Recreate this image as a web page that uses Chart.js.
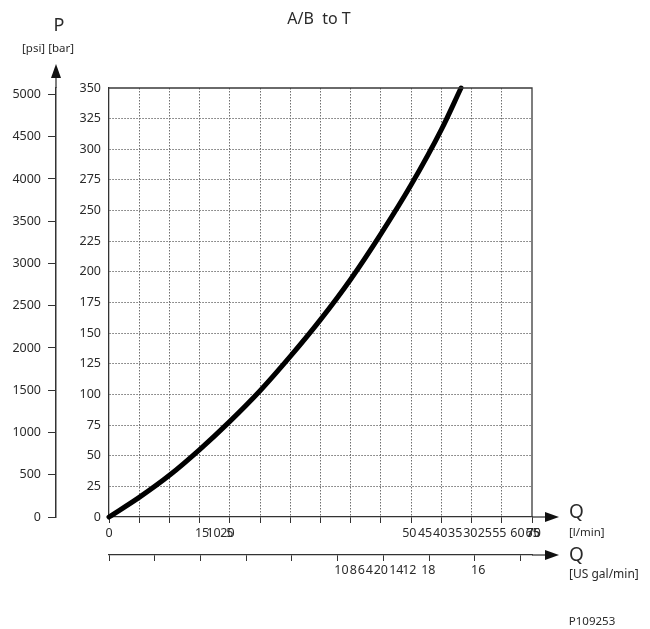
<!DOCTYPE html>
<html><head><meta charset="utf-8">
<script src="https://cdn.jsdelivr.net/npm/chart.js@4/dist/chart.umd.min.js"></script>
<style>html,body{margin:0;padding:0;background:#fff}#wrap{position:relative;width:650px;height:629px}</style>
</head><body><div id="wrap"><canvas id="c" width="650" height="629"></canvas></div>
<script>
// ---- data ----
const flowLpm     = [0, 5, 10, 15, 20, 25, 30, 35, 40, 45, 50, 55, 58.25];
const pressureBar = [0, 16, 34, 55, 78, 103, 131, 161, 194, 231, 271, 316, 350];

const barTicks  = [0,25,50,75,100,125,150,175,200,225,250,275,300,325,350];
const psiTicks  = [0,500,1000,1500,2000,2500,3000,3500,4000,4500,5000];
const lpmGrid   = [0,5,10,15,20,25,30,35,40,45,50,55,60,65,70];
const galGrid   = [0,2,4,6,8,10,12,14,16,18];

// tick labels as printed (overlapping) in the reference, with their positions in axis units
const lpmLabelText = ['0','15','10','20','5','50','45','40','35','30','25','55','60','65','75','70'];
const lpmLabelPos  = [0, 15.4, 17.3, 19.6, 20.0, 49.7, 52.3, 54.8, 57.3, 59.8, 62.2, 64.6, 67.6, 70.1, 70.2, 70.3];
const galLabelText = ['10','8','6','4','2','0','14','12','18','16'];
const galLabelPos  = [10.16, 10.68, 11.03, 11.38, 11.73, 12.04, 12.56, 13.13, 13.96, 16.14];

const PSI_PER_BAR = 14.5038;
const L_PER_GAL = 3.78541;
const FONT = 'Noto Sans';
const TXT = '#2a2a2a';

const gridTicks = (vals, labels, pos) =>
  vals.map(v => ({value: v})).concat(pos.map((v, i) => ({value: v, txt: labels[i]})));

const deco = {
  id: 'deco',
  afterDraw(chart) {
    const ctx = chart.ctx, a = chart.chartArea;
    const sx = chart.scales.x, sg = chart.scales.xg, sp = chart.scales.yp;
    ctx.save();
    ctx.strokeStyle = '#3a3a3a'; ctx.fillStyle = '#111'; ctx.lineWidth = 1.3;
    // frame top & right
    ctx.beginPath();
    ctx.moveTo(a.left, a.top); ctx.lineTo(a.right, a.top); ctx.lineTo(a.right, a.bottom);
    ctx.stroke();
    // psi axis extension + arrow
    const px = sp.right;
    ctx.beginPath(); ctx.moveTo(px, a.top); ctx.lineTo(px, a.top - 11); ctx.stroke();
    ctx.beginPath(); ctx.moveTo(px, a.top - 24); ctx.lineTo(px - 5, a.top - 10); ctx.lineTo(px + 5, a.top - 10); ctx.closePath(); ctx.fill();
    // x axes extensions + arrows
    [sx.top, sg.top].forEach(y => {
      ctx.beginPath(); ctx.moveTo(a.right, y); ctx.lineTo(a.right + 14, y); ctx.stroke();
      ctx.beginPath(); ctx.moveTo(a.right + 27, y); ctx.lineTo(a.right + 13, y - 5); ctx.lineTo(a.right + 13, y + 5); ctx.closePath(); ctx.fill();
    });
    // texts
    ctx.fillStyle = TXT;
    ctx.textBaseline = 'middle';
    ctx.textAlign = 'center';
    ctx.font = '16px "' + FONT + '"';
    ctx.fillText('A/B  to T', 319, 19);
    ctx.font = '18px "' + FONT + '"';
    ctx.fillText('P', 59, 26);
    ctx.font = '11.5px "' + FONT + '"';
    ctx.fillText('[psi] [bar]', 48, 49);
    ctx.textAlign = 'left';
    ctx.font = '19px "' + FONT + '"';
    ctx.fillText('Q', 569, sx.top - 4);
    ctx.fillText('Q', 569, sg.top + 1);
    ctx.font = '11.5px "' + FONT + '"';
    ctx.fillText('[l/min]', 569, sx.top + 16);
    ctx.font = '12px "' + FONT + '"';
    ctx.fillText('[US gal/min]', 569, sg.top + 20);
    ctx.textAlign = 'center';
    ctx.font = '11.5px "' + FONT + '"';
    ctx.fillText('P109253', 592, 622);
    ctx.restore();
  }
};

const clear = 'rgba(0,0,0,0)';
const gridCol = '#6f6f6f';

new Chart(document.getElementById('c'), {
  type: 'line',
  data: {
    datasets: [{
      data: flowLpm.map((q, i) => ({x: q, y: pressureBar[i]})),
      borderColor: '#000', borderWidth: 5, pointRadius: 0,
      cubicInterpolationMode: 'monotone', borderCapStyle: 'round',
      clip: 6, xAxisID: 'x', yAxisID: 'y'
    }]
  },
  options: {
    responsive: false, animation: false,
    layout: {padding: {top: 88, right: 118, bottom: 0, left: 0}},
    plugins: {legend: {display: false}, tooltip: {enabled: false}, title: {display: false}},
    scales: {
      x: {
        type: 'linear', position: 'bottom', min: 0, max: 70, weight: 0,
        afterBuildTicks: s => { s.ticks = gridTicks(lpmGrid, lpmLabelText, lpmLabelPos); },
        afterFit: s => { s.height = 38; },
        ticks: {autoSkip: false, maxRotation: 0, padding: 3, color: TXT, font: {family: FONT, size: 12.5},
                callback: (v, i, t) => t[i].txt || ''},
        grid: {
          color: c => (c.tick && c.tick.txt === undefined && c.tick.value > 0 && c.tick.value < 70) ? gridCol : clear,
          tickColor: c => (c.tick && c.tick.txt === undefined) ? '#333' : clear,
          tickLength: 6, lineWidth: 1
        },
        border: {display: true, color: '#333', width: 1.3, dash: [1.5, 1.5]}
      },
      xg: {
        type: 'linear', position: 'bottom', min: 0, max: 70 / L_PER_GAL, weight: 1,
        afterBuildTicks: s => { s.ticks = gridTicks(galGrid, galLabelText, galLabelPos); },
        afterFit: s => { s.height = 74; },
        ticks: {autoSkip: false, maxRotation: 0, padding: 2, color: TXT, font: {family: FONT, size: 12.5},
                callback: (v, i, t) => t[i].txt || ''},
        grid: {
          drawOnChartArea: false,
          tickColor: c => (c.tick && c.tick.txt === undefined) ? '#333' : clear,
          tickLength: 6
        },
        border: {display: true, color: '#333', width: 1.3}
      },
      y: {
        type: 'linear', position: 'left', min: 0, max: 350, weight: 0,
        afterBuildTicks: s => { s.ticks = barTicks.map(v => ({value: v})); },
        afterFit: s => { s.width = 53; },
        ticks: {padding: 8, color: TXT, font: {family: FONT, size: 12.5}, callback: v => String(v)},
        grid: {
          color: c => (c.tick && c.tick.value > 0 && c.tick.value < 350) ? gridCol : clear,
          drawTicks: false, lineWidth: 1
        },
        border: {display: true, color: '#333', width: 1.3, dash: [1.5, 1.5]}
      },
      yp: {
        type: 'linear', position: 'left', min: 0, max: 350 * PSI_PER_BAR, weight: 1,
        afterBuildTicks: s => { s.ticks = psiTicks.map(v => ({value: v})); },
        afterFit: s => { s.width = 56; },
        ticks: {padding: 7, color: TXT, font: {family: FONT, size: 12.5}, callback: v => String(v)},
        grid: {drawOnChartArea: false, drawTicks: true, tickLength: 8, tickColor: '#333'},
        border: {display: true, color: '#333', width: 1.5}
      }
    }
  },
  plugins: [deco]
});
</script>
</body></html>
